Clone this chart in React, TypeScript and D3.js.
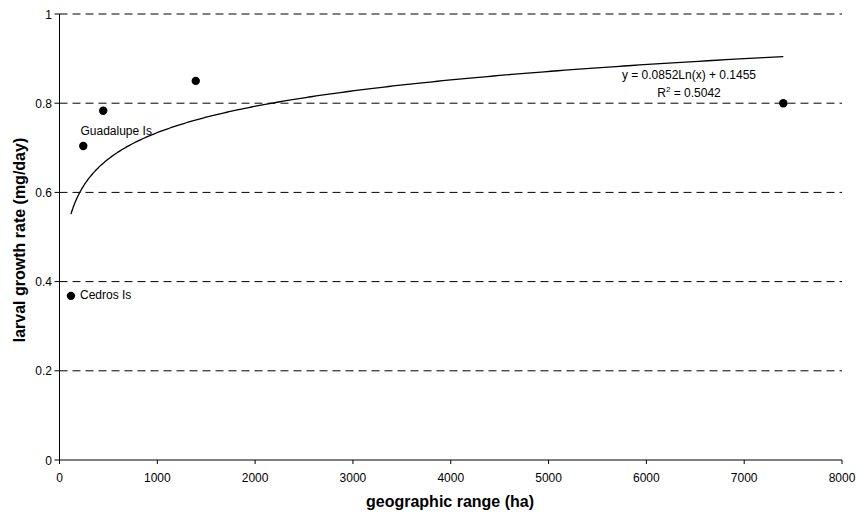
import React from "react";
import * as d3 from "d3";

const xs = [117, 243, 447, 1393, 7400];
const ys = [0.368, 0.704, 0.783, 0.85, 0.8];
const pointLabels = ["Cedros Is", "Guadalupe Is", "", "", ""];
const xTicks = [0, 1000, 2000, 3000, 4000, 5000, 6000, 7000, 8000];
const yTicks = [0, 0.2, 0.4, 0.6, 0.8, 1];
const fitA = 0.0852;
const fitB = 0.1455;
const eqText = "y = 0.0852Ln(x) + 0.1455";
const r2Value = "0.5042";

export default function App() {
  const W = 857, H = 513;
  const x = d3.scaleLinear().domain([0, 8000]).range([59.5, 842]);
  const y = d3.scaleLinear().domain([0, 1]).range([460, 14]);
  const font = "'Liberation Sans', Arial, sans-serif";
  const xmin = d3.min(xs)!, xmax = d3.max(xs)!;
  const curvePts = d3.range(0, 301).map((i) => {
    const xv = Math.exp(Math.log(xmin) + (Math.log(xmax) - Math.log(xmin)) * i / 300);
    return [xv, fitA * Math.log(xv) + fitB] as [number, number];
  });
  const line = d3.line<[number, number]>().x((d) => x(d[0])).y((d) => y(d[1]));
  return (
    <svg width={W} height={H} style={{ position: "absolute", left: 0, top: 0, background: "#fff" }} fontFamily={font}>
      {yTicks.filter((t) => t > 0).map((t) => (
        <line key={"g" + t} x1={x(0)} x2={x(8000)} y1={y(t)} y2={y(t)} stroke="#000" strokeWidth={1} strokeDasharray="8,5" />
      ))}
      <line x1={x(0)} x2={x(0)} y1={y(0)} y2={y(1)} stroke="#000" strokeWidth={1} />
      <line x1={x(0)} x2={x(8000)} y1={y(0)} y2={y(0)} stroke="#000" strokeWidth={1} />
      {yTicks.map((t) => (
        <g key={"yt" + t}>
          <line x1={x(0) - 5} x2={x(0)} y1={y(t)} y2={y(t)} stroke="#000" />
          <text x={x(0) - 7.5} y={y(t) + 4.5} fontSize={12} textAnchor="end">{String(t)}</text>
        </g>
      ))}
      {xTicks.map((t) => (
        <g key={"xt" + t}>
          <line x1={x(t)} x2={x(t)} y1={y(0)} y2={y(0) + 4} stroke="#000" />
          <text x={x(t)} y={482} fontSize={12} textAnchor="middle">{String(t)}</text>
        </g>
      ))}
      <path d={line(curvePts)!} fill="none" stroke="#000" strokeWidth={1.3} />
      {xs.map((xv, i) => (
        <circle key={"p" + i} cx={x(xv)} cy={y(ys[i])} r={4.2} fill="#000" />
      ))}
      <text x={80} y={298.5} fontSize={12}>{pointLabels[0]}</text>
      <text x={80.5} y={135} fontSize={12}>{pointLabels[1]}</text>
      <text x={689} y={79} fontSize={12} textAnchor="middle">{eqText}</text>
      <text x={689} y={97} fontSize={12} textAnchor="middle">
        R<tspan fontSize={8} dy={-5}>2</tspan><tspan dy={5}>{" = " + r2Value}</tspan>
      </text>
      <text transform={`translate(25,240) rotate(-90)`} fontSize={16} fontWeight="bold" textAnchor="middle">
        larval growth rate (mg/day)
      </text>
      <text x={450} y={507} fontSize={16} fontWeight="bold" textAnchor="middle">
        geographic range (ha)
      </text>
    </svg>
  );
}
